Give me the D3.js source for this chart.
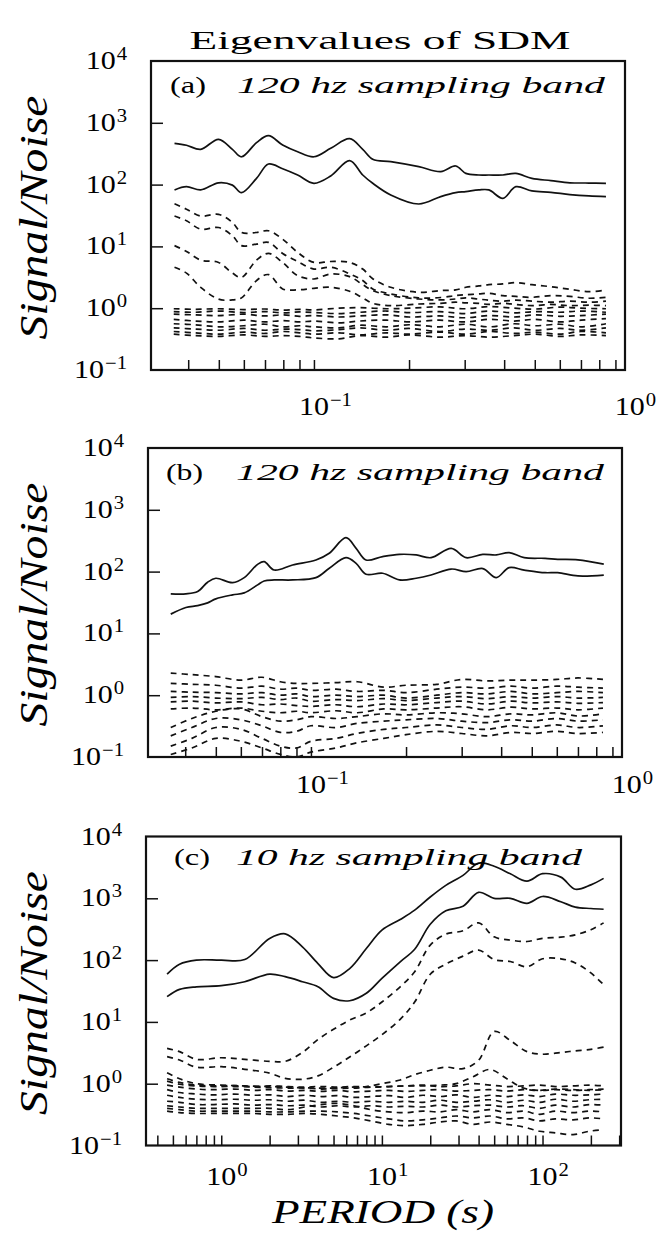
<!DOCTYPE html>
<html>
<head>
<meta charset="utf-8">
<script src="https://cdnjs.cloudflare.com/ajax/libs/d3/7.8.5/d3.min.js"></script>
<style>
  body { margin: 0; background: #fff; }
  svg { display: block; }
  text { font-family: "Liberation Serif", "DejaVu Serif", serif; fill: #000; }
  .it { font-style: italic; }
</style>
</head>
<body>
<svg id="chart" width="656" height="1238"></svg>
<script>
// ---- panel (a) : 120 hz sampling band ----
const periodA = [0.0362,0.0395,0.0438,0.0499,0.0552,0.059,0.0658,0.0718,0.0796,0.0888,
  0.1,0.113,0.1297,0.1427,0.1535,0.175,0.2147,0.252,0.281,0.3025,
  0.3326,0.3577,0.3963,0.4356,0.4895,0.5623,0.6458,0.7418,0.84]
const solidA1 = [466,433,372,541,372,282,477,618,437,340,282,386,553,372,257,235,195,162,200,152,
  143,143,143,152,126,116,107,106,105]
const solidA2 = [82,92.5,82,107,98,74,126,215,181,143,105,138,244,143,105,68,48.5,64,74,77,
  82,82,60,92.5,79,75,69,65.5,64]
const dashA1 = [49,40,31,33,24.4,16.8,16.8,17.9,13.1,8.0,5.5,5.7,5.5,4.3,3.0,2.18,1.81,1.93,1.98,2.18,
  2.29,2.4,2.47,2.59,2.4,2.23,2.02,1.85,1.97]
const dashA2 = [31,26,19,20.2,14.9,10.3,10.9,11.6,7.7,5.7,4.3,4.6,3.6,2.8,2.05,1.7,1.47,1.49,1.6,1.65,
  1.7,1.74,1.6,1.55,1.5,1.6,1.55,1.45,1.5]
const dashA3 = [10.3,8.3,6.0,5.5,3.7,3.16,6.0,7.7,5.5,3.37,2.97,3.58,3.24,2.4,1.93,1.6,1.41,1.36,1.41,1.47,
  1.4,1.35,1.3,1.35,1.3,1.25,1.3,1.25,1.3]
const dashA4 = [4.6,3.7,2.18,1.40,1.36,1.47,2.8,3.5,2.05,1.98,2.1,2.18,1.88,1.47,1.2,1.1,1.17,1.2,1.25,1.22,
  1.2,1.15,1.2,1.15,1.1,1.15,1.1,1.12,1.1]

// noise eigenvalues, panels (a) and (b) share this period grid
const periodN = [0.036,0.042,0.05,0.06,0.07,0.08,0.09,0.1,0.12,0.14,0.17,0.2,0.25,0.3,0.36,0.43,0.5,0.6,0.7,0.84]
const noiseA = [
  [0.98,0.96,0.98,0.95,0.97,0.93,0.96,0.94,1.0,1.02,0.98,1.0,1.05,0.98,1.06,1.0,0.97,1.04,1.0,0.98],
  [0.88,0.86,0.9,0.85,0.88,0.84,0.87,0.85,0.82,0.86,0.9,0.85,0.88,0.82,0.9,0.84,0.88,0.86,0.9,0.86],
  [0.8,0.78,0.76,0.8,0.75,0.78,0.74,0.76,0.72,0.75,0.78,0.72,0.75,0.7,0.76,0.72,0.78,0.74,0.76,0.8],
  [0.66,0.62,0.6,0.64,0.6,0.63,0.6,0.62,0.58,0.62,0.64,0.6,0.64,0.6,0.66,0.62,0.66,0.6,0.64,0.68],
  [0.56,0.54,0.5,0.52,0.55,0.5,0.52,0.5,0.48,0.53,0.5,0.54,0.5,0.55,0.5,0.56,0.52,0.55,0.5,0.56],
  [0.48,0.46,0.44,0.47,0.44,0.46,0.45,0.43,0.45,0.48,0.44,0.47,0.42,0.46,0.44,0.48,0.44,0.47,0.44,0.48],
  [0.42,0.4,0.38,0.41,0.39,0.42,0.4,0.38,0.4,0.37,0.4,0.38,0.41,0.38,0.42,0.39,0.41,0.38,0.42,0.4],
  [0.38,0.36,0.35,0.37,0.35,0.36,0.35,0.33,0.32,0.36,0.34,0.37,0.34,0.36,0.34,0.36,0.38,0.35,0.37,0.36]
]

// ---- panel (b) : 120 hz sampling band ----
const periodB = [0.036,0.0402,0.0438,0.0471,0.05,0.0565,0.0615,0.0678,0.0711,0.0765,
  0.0875,0.1037,0.1143,0.1291,0.139,0.1494,0.1686,0.1905,0.2153,0.24,
  0.278,0.31,0.35,0.386,0.424,0.473,0.551,0.604,0.70,0.845]
const solidB1 = [43.6,43.6,47.5,67.3,78,66.4,80,131,145,106,128,154,198,354,238,154,175,190,186,168,
  238,168,190,186,203,168,164,158,155,132]
const solidB2 = [20.5,26.2,28.2,31.2,36.2,42,45.2,61,70.6,73.3,73.3,80,113,168,136,90.6,94,73.3,78,88,
  110,100,112,80,116,106,96,96,85,88]
const noiseB = [
  [2.28,2.15,2.0,1.75,1.95,1.65,1.55,1.55,1.6,1.65,1.35,1.45,1.5,1.8,1.7,1.75,1.75,1.8,1.9,1.8],
  [1.55,1.5,1.45,1.3,1.4,1.25,1.3,1.2,1.25,1.15,1.2,1.1,1.25,1.35,1.3,1.4,1.3,1.4,1.35,1.3],
  [1.15,1.12,1.1,1.05,1.1,1.0,1.05,0.95,1.0,0.95,1.0,0.9,1.0,1.1,1.05,1.15,1.05,1.1,1.15,1.1],
  [0.92,0.95,0.9,0.88,0.92,0.85,0.9,0.8,0.85,0.82,0.88,0.82,0.9,0.95,0.88,0.95,0.9,0.95,0.9,0.92],
  [0.78,0.8,0.75,0.78,0.7,0.72,0.68,0.66,0.7,0.65,0.72,0.7,0.76,0.8,0.72,0.8,0.75,0.78,0.74,0.76],
  [0.6,0.62,0.58,0.62,0.55,0.52,0.55,0.52,0.56,0.52,0.6,0.58,0.62,0.65,0.58,0.64,0.6,0.62,0.58,0.62],
  [0.3,0.42,0.55,0.6,0.45,0.38,0.4,0.45,0.42,0.45,0.5,0.48,0.52,0.5,0.45,0.5,0.48,0.52,0.46,0.5],
  [0.22,0.3,0.42,0.4,0.32,0.25,0.26,0.32,0.3,0.35,0.38,0.4,0.42,0.38,0.36,0.4,0.38,0.42,0.38,0.4],
  [0.15,0.2,0.3,0.28,0.2,0.15,0.14,0.18,0.2,0.24,0.28,0.3,0.33,0.3,0.28,0.32,0.3,0.33,0.3,0.32],
  [0.11,0.14,0.2,0.18,0.14,0.11,0.1,0.12,0.14,0.17,0.2,0.23,0.26,0.24,0.22,0.25,0.24,0.26,0.24,0.25]
]

// ---- panel (c) : 10 hz sampling band ----
const periodC = [0.46,0.55,0.7,1.0,1.4,2.0,2.5,3.2,4.0,5.0,6.3,8,10,13,16,20,25,32,40,50,63,80,100,130,160,200,240]
const solidC1 = [59.4,86,100,100,102,224,266,164,88,52,73,154,305,454,643,1050,1620,2350,3700,3300,
  2500,1900,2500,2200,1400,1650,2100]
const solidC2 = [25.6,33.6,37,38.5,44.7,59.4,53.9,44.7,37,24,22,29,50.6,94,150,380,627,745,1250,1000,
  1000,830,1070,880,720,684,665]
const dashC1 = [3.74,3.3,2.48,2.63,2.48,2.3,2.3,3.2,5.2,7.6,10.7,14,21,37,65,175,263,298,400,238,
  211,200,225,235,256,310,400]
const dashC2 = [2.74,2.42,1.85,1.89,1.71,1.48,1.22,1.18,1.34,1.85,2.7,4.1,6.2,11,21,59,86,116,145,102,
  95,78,105,105,90,62,40]
const dashC3 = [1.5,1.2,1.0,0.95,0.92,0.9,0.88,0.86,0.85,0.85,0.88,0.9,1.0,1.15,1.4,1.65,1.85,1.75,2.4,7.0,
  5.0,3.3,3.0,3.2,3.4,3.6,3.9]
const periodNC = [0.46,0.55,0.7,0.9,1.2,1.6,2.0,2.6,3.3,4.2,5.3,6.7,8.5,11,14,18,23,29,37,47,60,76,96,120,155,195,240]
const noiseC = [
  [1.1,0.98,0.92,0.9,0.9,0.88,0.86,0.85,0.85,0.82,0.84,0.85,0.88,0.9,0.92,0.92,0.95,1.0,1.3,1.7,1.2,0.85,0.78,0.8,0.78,0.8,0.82],
  [1.2,1.05,0.95,0.92,0.93,0.9,0.92,0.9,0.88,0.9,0.88,0.9,0.88,0.9,0.92,0.95,0.9,0.92,1.0,0.95,0.9,0.92,0.95,0.9,0.92,0.95,0.92],
  [0.95,0.88,0.82,0.8,0.82,0.78,0.8,0.76,0.78,0.75,0.78,0.74,0.76,0.78,0.75,0.78,0.8,0.76,0.78,0.8,0.76,0.8,0.78,0.82,0.8,0.78,0.8],
  [0.8,0.72,0.68,0.66,0.68,0.65,0.66,0.62,0.65,0.62,0.64,0.6,0.62,0.64,0.6,0.65,0.62,0.66,0.6,0.65,0.62,0.66,0.62,0.68,0.65,0.66,0.68],
  [0.65,0.6,0.56,0.55,0.56,0.54,0.55,0.52,0.54,0.5,0.52,0.5,0.52,0.5,0.52,0.5,0.54,0.5,0.52,0.55,0.5,0.54,0.5,0.56,0.52,0.55,0.56],
  [0.52,0.5,0.46,0.46,0.47,0.45,0.46,0.44,0.45,0.42,0.44,0.42,0.44,0.42,0.43,0.42,0.45,0.42,0.44,0.45,0.42,0.44,0.4,0.45,0.42,0.46,0.45],
  [0.44,0.42,0.4,0.4,0.4,0.4,0.4,0.38,0.42,0.46,0.48,0.44,0.38,0.35,0.34,0.36,0.35,0.38,0.35,0.38,0.34,0.36,0.32,0.36,0.34,0.36,0.35],
  [0.4,0.38,0.36,0.36,0.36,0.36,0.35,0.35,0.36,0.36,0.35,0.33,0.3,0.27,0.25,0.26,0.28,0.3,0.28,0.3,0.27,0.28,0.25,0.27,0.26,0.28,0.27],
  [0.36,0.34,0.33,0.33,0.33,0.33,0.32,0.32,0.33,0.32,0.3,0.28,0.25,0.22,0.21,0.22,0.24,0.25,0.22,0.24,0.22,0.2,0.17,0.16,0.15,0.17,0.18]
]

const yExps = [4, 3, 2, 1, 0, -1]

const svg = d3.select('#chart')

const panels = [
  { id: 'a', left: 151, right: 625, top: 61, bottom: 370, xDomain: [0.0305, 0.965], xLabs: [-1, 0], xLabY: 415,
    tag: '(a)', desc: '120 hz sampling band', tagX: [170, 36], descX: [237, 368], labY: 93,
    solid: [[periodA, solidA1], [periodA, solidA2]],
    dashed: [[periodA, dashA1], [periodA, dashA2], [periodA, dashA3], [periodA, dashA4]]
      .concat(noiseA.map(n => [periodN, n])) },
  { id: 'b', left: 148, right: 622, top: 448, bottom: 757, xDomain: [0.0305, 0.965], xLabs: [-1, 0], xLabY: 793,
    tag: '(b)', desc: '120 hz sampling band', tagX: [166, 37], descX: [236, 368], labY: 480,
    solid: [[periodB, solidB1], [periodB, solidB2]],
    dashed: noiseB.map(n => [periodN, n]) },
  { id: 'c', left: 146, right: 621, top: 836.5, bottom: 1145.5, xDomain: [0.34, 308], xLabs: [0, 1, 2], xLabY: 1185,
    tag: '(c)', desc: '10 hz sampling band', tagX: [174, 36], descX: [236, 346], labY: 865,
    solid: [[periodC, solidC1], [periodC, solidC2]],
    dashed: [[periodC, dashC1], [periodC, dashC2], [periodC, dashC3]]
      .concat(noiseC.map(n => [periodNC, n])) }
]

function supText(exp) {
  return exp < 0 ? '\u2212' + Math.abs(exp) : String(exp)
}

// "10" with a raised exponent; align 'center' centres the "10" on x, 'end' right-aligns the whole label
function powLabel(g, x, y, exp, align) {
  const w = 30
  const main = g.append('text').attr('font-size', 25)
    .attr('textLength', w).attr('lengthAdjust', 'spacingAndGlyphs').text('10')
  const sup = g.append('text').attr('font-size', 18).text(supText(exp))
  const ws = sup.node().getComputedTextLength() * 1.15
  sup.attr('textLength', ws).attr('lengthAdjust', 'spacingAndGlyphs')
  const xs = align === 'center' ? x - w / 2 : x - w - ws - 1
  main.attr('x', xs).attr('y', y)
  sup.attr('x', xs + w + 1).attr('y', y - 9)
}

panels.forEach(p => {
  const g = svg.append('g')
  const x = d3.scaleLog().domain(p.xDomain).range([p.left, p.right])
  const y = d3.scaleLog().domain([0.1, 10000]).range([p.bottom, p.top])

  g.append('clipPath').attr('id', 'clip-' + p.id)
    .append('rect').attr('x', p.left).attr('y', p.top)
    .attr('width', p.right - p.left).attr('height', p.bottom - p.top)

  const line = d3.line()
    .x(d => x(d[0])).y(d => y(d[1]))
    .curve(d3.curveCatmullRom.alpha(0.5))

  const plot = g.append('g').attr('clip-path', 'url(#clip-' + p.id + ')')
  p.dashed.forEach(([px, py]) => {
    plot.append('path').datum(d3.zip(px, py))
      .attr('d', line).attr('fill', 'none').attr('stroke', '#111')
      .attr('stroke-width', 1.7).attr('stroke-dasharray', '6 5')
  })
  p.solid.forEach(([px, py]) => {
    plot.append('path').datum(d3.zip(px, py))
      .attr('d', line).attr('fill', 'none').attr('stroke', '#111')
      .attr('stroke-width', 1.7)
  })

  // bottom ticks, inward
  const bottomAxis = d3.axisBottom(x).tickSizeInner(-10).tickSizeOuter(0).tickFormat('')
  g.append('g').attr('transform', 'translate(0,' + p.bottom + ')').call(bottomAxis)
    .call(a => a.select('.domain').remove())
    .selectAll('line').attr('stroke', '#111').attr('stroke-width', 1.5)

  // left ticks at the inner decades
  const leftAxis = d3.axisLeft(y).tickValues([1000, 100, 10, 1]).tickSizeInner(-12).tickSizeOuter(0).tickFormat('')
  g.append('g').attr('transform', 'translate(' + p.left + ',0)').call(leftAxis)
    .call(a => a.select('.domain').remove())
    .selectAll('line').attr('stroke', '#111').attr('stroke-width', 1.5)

  // frame
  g.append('rect').attr('x', p.left).attr('y', p.top)
    .attr('width', p.right - p.left).attr('height', p.bottom - p.top)
    .attr('fill', 'none').attr('stroke', '#111').attr('stroke-width', 2.2)

  yExps.forEach(e => powLabel(g, p.left - 24, y(Math.pow(10, e)) + 8, e, 'end'))
  p.xLabs.forEach(e => powLabel(g, x(Math.pow(10, e)), p.xLabY, e, 'center'))

  g.append('text').attr('x', p.tagX[0]).attr('y', p.labY).attr('font-size', 24)
    .attr('textLength', p.tagX[1]).attr('lengthAdjust', 'spacingAndGlyphs').text(p.tag)
  g.append('text').attr('class', 'it').attr('x', p.descX[0]).attr('y', p.labY).attr('font-size', 24)
    .attr('textLength', p.descX[1]).attr('lengthAdjust', 'spacingAndGlyphs').text(p.desc)

  g.append('text').attr('class', 'it').attr('font-size', 40)
    .attr('text-anchor', 'middle')
    .attr('transform', 'translate(47,' + ((p.top + p.bottom) / 2 + 2) + ') rotate(-90)')
    .attr('textLength', 244).attr('lengthAdjust', 'spacingAndGlyphs')
    .text('Signal/Noise')
})

svg.append('text').attr('x', 380).attr('y', 49).attr('font-size', 26)
  .attr('text-anchor', 'middle').attr('textLength', 381).attr('lengthAdjust', 'spacingAndGlyphs')
  .text('Eigenvalues of SDM')

svg.append('text').attr('class', 'it').attr('x', 383).attr('y', 1223).attr('font-size', 33)
  .attr('text-anchor', 'middle').attr('textLength', 222).attr('lengthAdjust', 'spacingAndGlyphs')
  .text('PERIOD (s)')
</script>
</body>
</html>
